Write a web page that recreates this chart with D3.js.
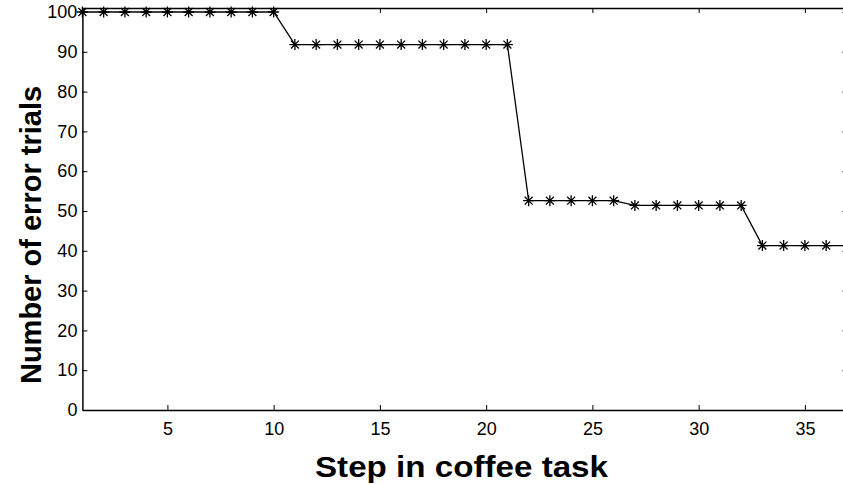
<!DOCTYPE html>
<html>
<head>
<meta charset="utf-8">
<script src="https://cdn.jsdelivr.net/npm/d3@7"></script>
<style>
  html, body { margin: 0; padding: 0; background: #fff; overflow: hidden; }
  svg { display: block; }
</style>
</head>
<body>
<svg id="chart" width="843" height="484"></svg>
<script>
// ---- data ----
const steps = [1,2,3,4,5,6,7,8,9,10,11,12,13,14,15,16,17,18,19,20,21,22,23,24,25,26,27,28,29,30,31,32,33,34,35,36,37];
const errorTrials = [100,100,100,100,100,100,100,100,100,100,
                     91.8,91.8,91.8,91.8,91.8,91.8,91.8,91.8,91.8,91.8,91.8,
                     52.6,52.6,52.6,52.6,52.6,
                     51.4,51.4,51.4,51.4,51.4,51.4,
                     41.3,41.3,41.3,41.3,41.3];
const xTicks = [5,10,15,20,25,30,35];
const yTicks = [0,10,20,30,40,50,60,70,80,90,100];
const xLabel = "Step in coffee task";
const yLabel = "Number of error trials";

(function () {
// ---- layout ----
const svg = d3.select("#chart");
const pLeft = 82.4, pRight = 847.4, pTop = 8, pBottom = 410;

const x = d3.scaleLinear().domain([1, 37]).range([pLeft, pRight]);
const y = d3.scaleLinear().domain([0, 101]).range([pBottom, pTop]);

const font = "'Liberation Sans', Arial, Helvetica, sans-serif";

svg.append("defs").append("clipPath").attr("id", "clip")
  .append("rect").attr("x", pLeft - 8).attr("y", pTop - 8).attr("width", pRight - pLeft + 8).attr("height", pBottom - pTop + 16);

// axes (MATLAB style: ticks inward, full box)
const tickLen = 5;
const gx = svg.append("g").attr("transform", `translate(0,${pBottom})`)
  .call(d3.axisBottom(x).tickValues(xTicks).tickSize(-tickLen).tickPadding(12).tickSizeOuter(0));
const gxTop = svg.append("g").attr("transform", `translate(0,${pTop})`)
  .call(d3.axisTop(x).tickValues(xTicks).tickSize(-tickLen).tickFormat("").tickSizeOuter(0));
const gy = svg.append("g").attr("transform", `translate(${pLeft},0)`)
  .call(d3.axisLeft(y).tickValues(yTicks).tickSize(-tickLen).tickPadding(5).tickSizeOuter(0));
const gyR = svg.append("g").attr("transform", `translate(${pRight},0)`)
  .call(d3.axisRight(y).tickValues(yTicks).tickSize(-tickLen).tickFormat("").tickSizeOuter(0));

[gx, gxTop, gy, gyR].forEach(g => {
  g.select(".domain").attr("stroke", "#000").attr("stroke-width", 1.5);
  g.selectAll(".tick line").attr("stroke", "#000").attr("stroke-width", 1);
  g.selectAll(".tick text").attr("fill", "#000").style("font-family", font).style("font-size", "18px");
});

// line
const line = d3.line().x((d, i) => x(steps[i])).y(d => y(d));
const plot = svg.append("g").attr("clip-path", "url(#clip)");
plot.append("path")
  .datum(errorTrials)
  .attr("d", line)
  .attr("fill", "none")
  .attr("stroke", "#000")
  .attr("stroke-width", 1.3);

// asterisk markers
const r = 5.5;
const markers = plot.selectAll("g.mk")
  .data(errorTrials.map((v, i) => ({ s: steps[i], v })))
  .join("g")
  .attr("class", "mk")
  .attr("transform", d => `translate(${x(d.s)},${y(d.v)})`);
markers.append("path")
  .attr("d", `M${-r},0L${r},0M0,${-r}L0,${r}M${-r*0.72},${-r*0.72}L${r*0.72},${r*0.72}M${-r*0.72},${r*0.72}L${r*0.72},${-r*0.72}`)
  .attr("stroke", "#000")
  .attr("stroke-width", 1.3)
  .attr("fill", "none");

// axis labels
svg.append("text")
  .attr("x", 461.5)
  .attr("y", 477)
  .attr("text-anchor", "middle")
  .attr("textLength", 293)
  .attr("lengthAdjust", "spacingAndGlyphs")
  .style("font-family", font)
  .style("font-weight", "bold")
  .style("font-size", "30px")
  .attr("fill", "#000")
  .text(xLabel);

svg.append("text")
  .attr("transform", `translate(41,235) rotate(-90)`)
  .attr("text-anchor", "middle")
  .style("font-family", font)
  .style("font-weight", "bold")
  .style("font-size", "29px")
  .attr("fill", "#000")
  .text(yLabel);
})();
</script>
</body>
</html>
